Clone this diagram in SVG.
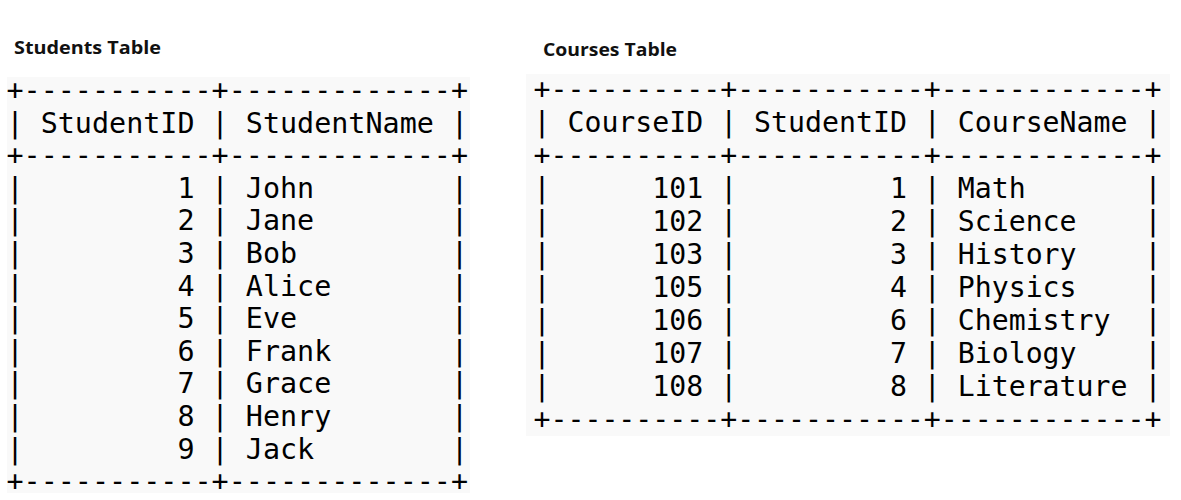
<svg xmlns="http://www.w3.org/2000/svg" width="1181" height="500" viewBox="0 0 1181 500" xml:space="preserve">
<style>
.bg{fill:#ffffff}
.panel{fill:#f9f9f9}
.title{font-family:"Open Sans","Noto Sans","Liberation Sans",sans-serif;font-weight:700;font-size:18.5px;fill:#111}
.mono{font-family:"DejaVu Sans Mono","Liberation Mono",monospace;fill:#000;white-space:pre}
.l{font-size:28.4px}
.r{font-size:28.2px}
</style>
<rect class="bg" x="0" y="0" width="1181" height="500"/>
<g id="students-table">
<text class="title" x="14" y="54" textLength="147" lengthAdjust="spacingAndGlyphs">Students Table</text>
<rect class="panel" x="7" y="77" width="463" height="416"/>
<g class="mono l">
<text xml:space="preserve" x="6.5" y="100">+-----------+-------------+</text>
<text xml:space="preserve" x="6.5" y="132.6">| StudentID | StudentName |</text>
<text xml:space="preserve" x="6.5" y="165.2">+-----------+-------------+</text>
<text xml:space="preserve" x="6.5" y="197.8">|         1 | John        |</text>
<text xml:space="preserve" x="6.5" y="230.4">|         2 | Jane        |</text>
<text xml:space="preserve" x="6.5" y="263">|         3 | Bob         |</text>
<text xml:space="preserve" x="6.5" y="295.6">|         4 | Alice       |</text>
<text xml:space="preserve" x="6.5" y="328.2">|         5 | Eve         |</text>
<text xml:space="preserve" x="6.5" y="360.8">|         6 | Frank       |</text>
<text xml:space="preserve" x="6.5" y="393.4">|         7 | Grace       |</text>
<text xml:space="preserve" x="6.5" y="426">|         8 | Henry       |</text>
<text xml:space="preserve" x="6.5" y="458.6">|         9 | Jack        |</text>
<text xml:space="preserve" x="6.5" y="491.2">+-----------+-------------+</text>
</g>
</g>
<g id="courses-table">
<text class="title" x="543" y="56" textLength="134" lengthAdjust="spacingAndGlyphs">Courses Table</text>
<rect class="panel" x="526" y="74" width="644" height="362"/>
<g class="mono r">
<text xml:space="preserve" x="533.5" y="98.5">+----------+-----------+------------+</text>
<text xml:space="preserve" x="533.5" y="131.5">| CourseID | StudentID | CourseName |</text>
<text xml:space="preserve" x="533.5" y="164.5">+----------+-----------+------------+</text>
<text xml:space="preserve" x="533.5" y="197.5">|      101 |         1 | Math       |</text>
<text xml:space="preserve" x="533.5" y="230.5">|      102 |         2 | Science    |</text>
<text xml:space="preserve" x="533.5" y="263.5">|      103 |         3 | History    |</text>
<text xml:space="preserve" x="533.5" y="296.5">|      105 |         4 | Physics    |</text>
<text xml:space="preserve" x="533.5" y="329.5">|      106 |         6 | Chemistry  |</text>
<text xml:space="preserve" x="533.5" y="362.5">|      107 |         7 | Biology    |</text>
<text xml:space="preserve" x="533.5" y="395.5">|      108 |         8 | Literature |</text>
<text xml:space="preserve" x="533.5" y="428.5">+----------+-----------+------------+</text>
</g>
</g>
<g id="connectors"/>
</svg>
